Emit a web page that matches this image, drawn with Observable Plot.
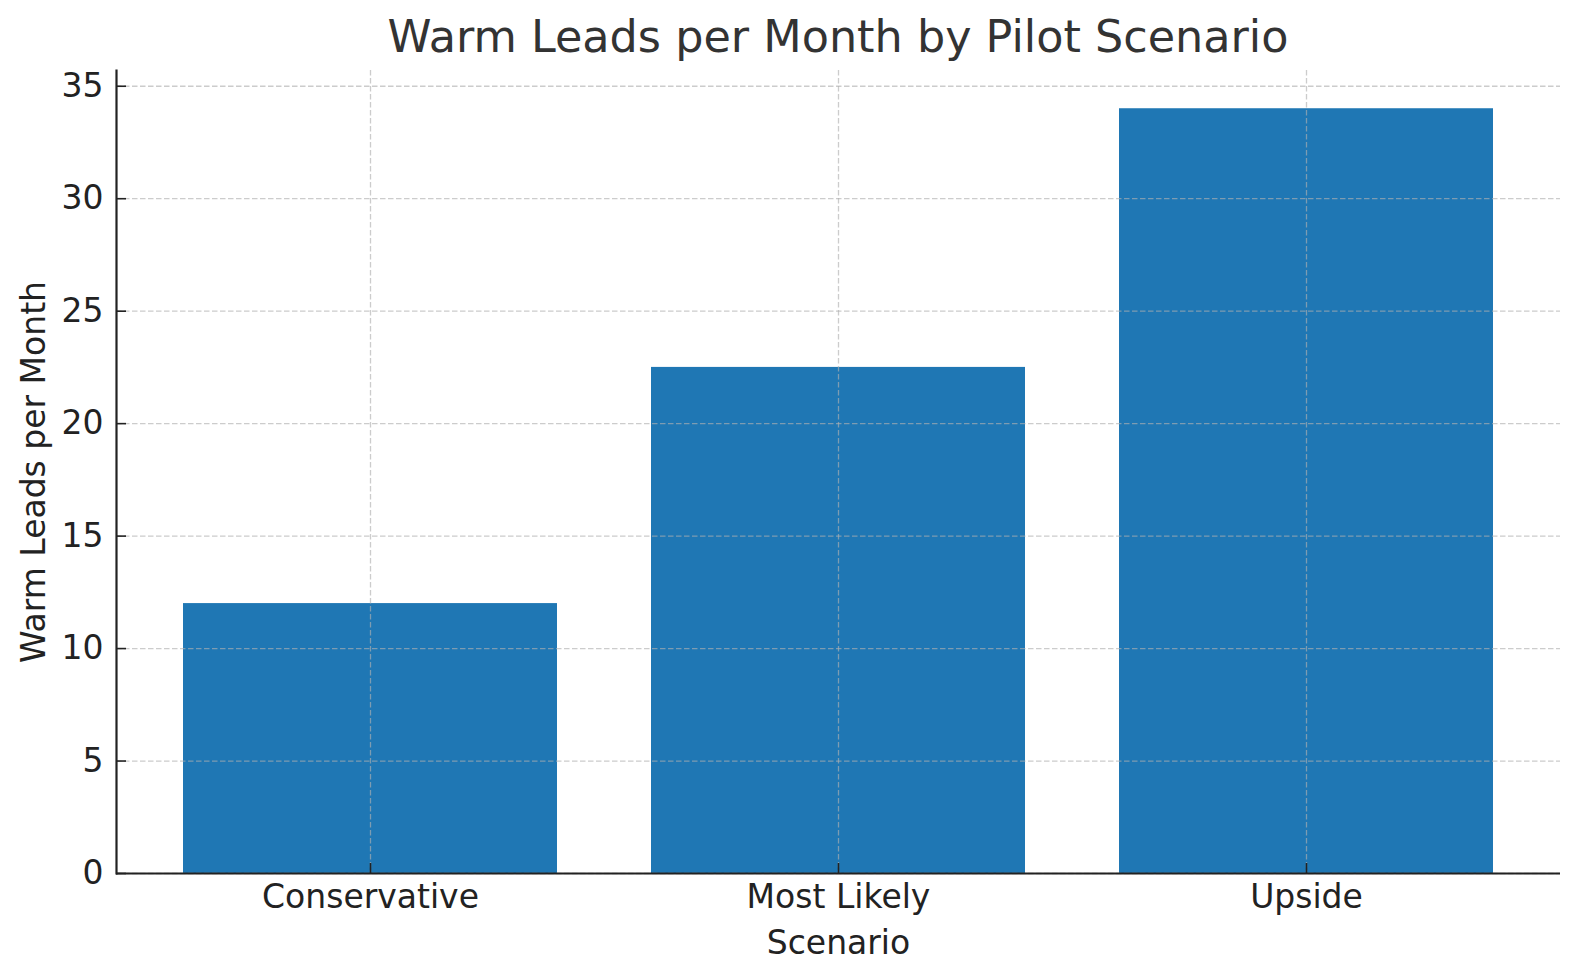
<!DOCTYPE html>
<html>
<head>
<meta charset="utf-8">
<script src="https://cdn.jsdelivr.net/npm/d3@7"></script>
<script src="https://cdn.jsdelivr.net/npm/@observablehq/plot@0.6"></script>
<style>
  html, body { margin: 0; padding: 0; background: #fff; }
  #wrap { width: 1580px; height: 980px; position: relative; font-family: "DejaVu Sans", sans-serif; }
  #title { height: 60px; box-sizing: border-box; padding-top: 15px; margin-left: 116px; width: 1444px;
           text-align: center; font-size: 44.5px; line-height: 1; color: #333; white-space: nowrap; }
  svg { display: block; }
</style>
</head>
<body>
<div id="wrap">
  <div id="title">Warm Leads per Month by Pilot Scenario</div>
  <div id="chart"></div>
</div>
<script>
const scenarios = ["Conservative", "Most Likely", "Upside"];
const leads = [12, 22.5, 34];
const yTicks = [0, 5, 10, 15, 20, 25, 30, 35];
const xLabel = "Scenario";
const yLabel = "Warm Leads per Month";

const data = scenarios.map((s, i) => ({scenario: s, value: leads[i]}));
const font = "DejaVu Sans";

const chart = Plot.plot({
  width: 1580,
  height: 920,
  marginTop: 10,
  marginBottom: 107,
  marginLeft: 116,
  marginRight: 20,
  style: {fontFamily: font, background: "#fff", color: "#222"},
  x: {domain: scenarios, paddingInner: 0.2, paddingOuter: 0.14, label: null},
  y: {domain: [0, 35.7], ticks: yTicks, label: null},
  marks: [
    Plot.barY(data, {x: "scenario", y: "value", fill: "#1f77b4"}),
    Plot.gridY(yTicks, {stroke: "#b0b0b0", strokeOpacity: 0.65, strokeWidth: 1.3, strokeDasharray: "5.5,2.5"}),
    Plot.gridX(scenarios, {stroke: "#b0b0b0", strokeOpacity: 0.65, strokeWidth: 1.3, strokeDasharray: "5.5,2.5"}),
    // inward ticks
    Plot.axisX(scenarios, {tickSize: 10, dy: -10, text: null, stroke: "#222", strokeWidth: 1.6, strokeOpacity: 1}),
    Plot.axisY(yTicks, {tickSize: 10, dx: 10, text: null, stroke: "#222", strokeWidth: 1.6, strokeOpacity: 1}),
    // tick labels
    Plot.axisX(scenarios, {tickSize: 0, tickPadding: 11, fontSize: 33, fill: "#222", label: null}),
    Plot.axisY(yTicks, {tickSize: 0, tickPadding: 13, fontSize: 33, fill: "#222", label: null}),
    // spines
    Plot.ruleY([0], {stroke: "#222", strokeWidth: 2.2}),
    Plot.frame({anchor: "left", stroke: "#222", strokeWidth: 2.2}),
    // axis labels
    Plot.text([xLabel], {frameAnchor: "bottom", dy: 80, lineAnchor: "bottom", text: d => d, fontSize: 33, fill: "#222"}),
    Plot.text([yLabel], {frameAnchor: "left", dx: -82, rotate: -90, textAnchor: "middle", lineAnchor: "middle", text: d => d, fontSize: 33, fill: "#222"})
  ]
});
document.getElementById("chart").appendChild(chart);
</script>
</body>
</html>
